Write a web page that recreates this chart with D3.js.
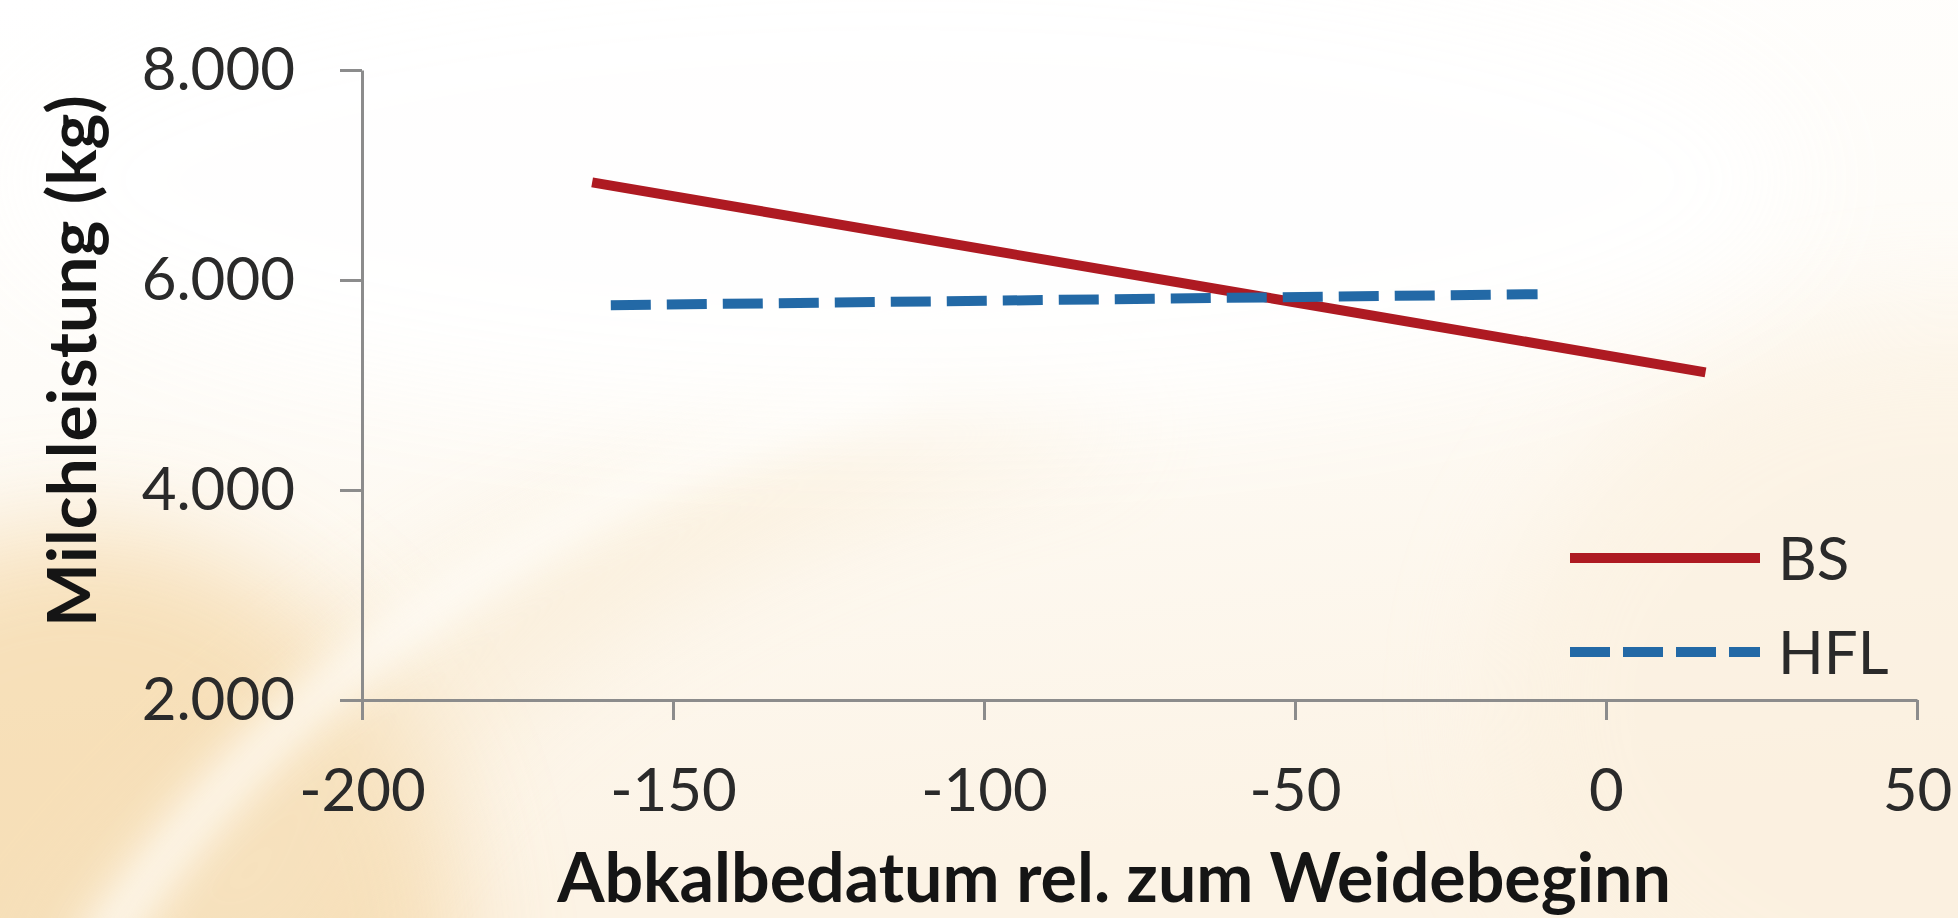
<!DOCTYPE html>
<html>
<head>
<meta charset="utf-8">
<script src="https://cdn.jsdelivr.net/npm/d3@7"></script>
<style>
  html, body { margin: 0; padding: 0; background: #ffffff; overflow: hidden; }
  svg { display: block; }
  text { font-family: Lato, "Open Sans", "DejaVu Sans", sans-serif; }
</style>
</head>
<body>
<svg id="chart" width="1958" height="918"></svg>
<script>
// Series: milk yield trend lines vs. calving date relative to start of grazing
const seriesNames = ["BS", "HFL"];
const seriesColors = ["#ae1a22", "#2369a6"];
const bsDays = [-163, 16];
const bsYield = [6930, 5120];
const hflDays = [-160, -11];
const hflYield = [5760, 5865];

// Axis ticks
const xTicks = [-200, -150, -100, -50, 0, 50];
const xTickLabels = ["-200", "-150", "-100", "-50", "0", "50"];
const yTicks = [2000, 4000, 6000, 8000];
const yTickLabels = ["2.000", "4.000", "6.000", "8.000"];

const xTitle = "Abkalbedatum rel. zum Weidebeginn";
const yTitle = "Milchleistung (kg)";

const W = 1958, H = 918;
const svg = d3.select("#chart");
const defs = svg.append("defs");

// ---- soft decorative backdrop ----
const baseGrad = defs.append("linearGradient").attr("id", "baseGrad")
  .attr("x1", 0).attr("y1", 0).attr("x2", 0.2).attr("y2", 1);
baseGrad.append("stop").attr("offset", "0%").attr("stop-color", "#ffffff");
baseGrad.append("stop").attr("offset", "40%").attr("stop-color", "#fefcf8");
baseGrad.append("stop").attr("offset", "100%").attr("stop-color", "#fcf3e5");

const blurBig = defs.append("filter").attr("id", "blurBig")
  .attr("x", "-50%").attr("y", "-50%").attr("width", "200%").attr("height", "200%");
blurBig.append("feGaussianBlur").attr("stdDeviation", 55);
const blurMid = defs.append("filter").attr("id", "blurMid")
  .attr("x", "-50%").attr("y", "-50%").attr("width", "200%").attr("height", "200%");
blurMid.append("feGaussianBlur").attr("stdDeviation", 20);

const bg = svg.append("g").attr("class", "backdrop");
bg.append("rect").attr("width", W).attr("height", H).attr("fill", "url(#baseGrad)");
// warm glow in the lower-left corner
bg.append("ellipse").attr("cx", 80).attr("cy", 960).attr("rx", 380).attr("ry", 430)
  .attr("fill", "#f6dcb0").attr("opacity", 0.85).attr("filter", "url(#blurBig)");
// faint warm band sweeping up to the right
bg.append("path")
  .attr("d", "M 0 1000 C 200 700, 500 480, 1000 380 L 1150 430 C 700 520, 420 720, 320 1000 Z")
  .attr("fill", "#f7e4c4").attr("opacity", 0.45).attr("filter", "url(#blurBig)");
// light wash on the right side
bg.append("ellipse").attr("cx", 1950).attr("cy", 700).attr("rx", 450).attr("ry", 380)
  .attr("fill", "#fbefdc").attr("opacity", 0.5).attr("filter", "url(#blurBig)");
// light streak across the corner glow
bg.append("path")
  .attr("d", "M 90 960 C 250 720, 480 520, 900 380")
  .attr("fill", "none").attr("stroke", "#fffdf8").attr("stroke-width", 45)
  .attr("opacity", 0.8).attr("filter", "url(#blurMid)");
// bright area across the upper part of the plot
bg.append("ellipse").attr("cx", 900).attr("cy", 180).attr("rx", 900).attr("ry", 240)
  .attr("fill", "#ffffff").attr("opacity", 0.9).attr("filter", "url(#blurBig)");

// ---- scales ----
const x = d3.scaleLinear().domain([-200, 50]).range([362, 1917]);
const y = d3.scaleLinear().domain([2000, 8000]).range([700, 70]);

const axisColor = "#8c8c8c";
const textColor = "#2a2a2a";
const tickFont = 60;

// ---- axes ----
const yAxis = d3.axisLeft(y)
  .tickValues(yTicks)
  .tickFormat((d, i) => yTickLabels[i])
  .tickSize(22).tickSizeOuter(0).tickPadding(45);
const gy = svg.append("g").attr("transform", `translate(${x(-200)},0)`).call(yAxis);

const xAxis = d3.axisBottom(x)
  .tickValues(xTicks)
  .tickFormat((d, i) => xTickLabels[i])
  .tickSize(20).tickSizeOuter(0).tickPadding(48);
const gx = svg.append("g").attr("transform", `translate(0,${y(2000)})`).call(xAxis);

[gx, gy].forEach(g => {
  g.select(".domain").attr("stroke", axisColor).attr("stroke-width", 3);
  g.selectAll(".tick line").attr("stroke", axisColor).attr("stroke-width", 3);
  g.selectAll(".tick text")
    .attr("fill", textColor)
    .style("font-family", "Lato, 'Open Sans', sans-serif")
    .style("font-size", tickFont + "px");
});

// ---- series lines ----
const line = d3.line().x(d => x(d[0])).y(d => y(d[1]));
const bsPts = d3.zip(bsDays, bsYield);
const hflPts = d3.zip(hflDays, hflYield);

svg.append("path").datum(bsPts)
  .attr("d", line)
  .attr("fill", "none")
  .attr("stroke", seriesColors[0])
  .attr("stroke-width", 10)
  .attr("stroke-linecap", "butt");

svg.append("path").datum(hflPts)
  .attr("d", line)
  .attr("fill", "none")
  .attr("stroke", seriesColors[1])
  .attr("stroke-width", 10)
  .attr("stroke-dasharray", "40,16")
  .attr("stroke-linecap", "butt");

// ---- legend ----
const legend = svg.append("g").attr("transform", "translate(1570,0)");
const legendRows = [558, 652];
seriesNames.forEach((name, i) => {
  const row = legend.append("g").attr("transform", `translate(0,${legendRows[i]})`);
  row.append("line")
    .attr("x1", 0).attr("x2", 190).attr("y1", 0).attr("y2", 0)
    .attr("stroke", seriesColors[i]).attr("stroke-width", 10)
    .attr("stroke-dasharray", i === 1 ? "40,13" : null);
  row.append("text")
    .attr("x", 208).attr("y", 0).attr("dy", "0.36em")
    .attr("fill", textColor)
    .style("font-size", tickFont + "px")
    .text(name);
});

// ---- axis titles, sized to their spans ----
function fitText(sel, targetWidth, startSize) {
  sel.style("font-size", startSize + "px");
  const w = sel.node().getComputedTextLength();
  sel.style("font-size", (startSize * targetWidth / w) + "px");
}

const xt = svg.append("text")
  .attr("x", 1114).attr("y", 902)
  .attr("text-anchor", "middle")
  .attr("fill", "#151515")
  .style("font-weight", 700)
  .text(xTitle);
fitText(xt, 1114, 64);

const yt = svg.append("text")
  .attr("transform", "translate(96,361) rotate(-90)")
  .attr("text-anchor", "middle")
  .attr("fill", "#151515")
  .style("font-weight", 700)
  .text(yTitle);
fitText(yt, 532, 60);
</script>
</body>
</html>
